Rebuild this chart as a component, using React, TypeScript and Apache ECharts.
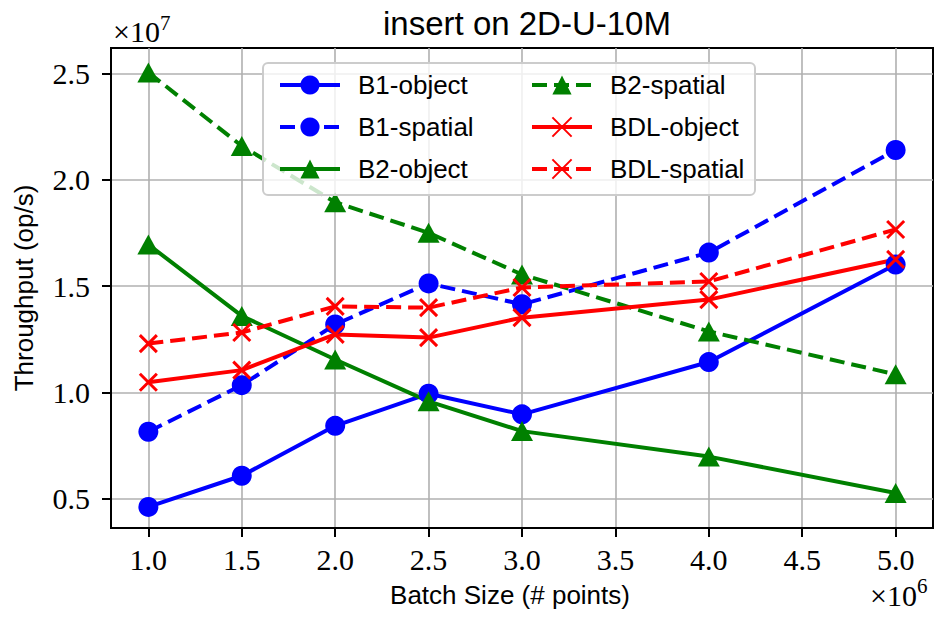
import React, { useEffect, useRef } from "react";
import * as echarts from "echarts";

// Batch size (×10^6 points)
const X_VALUES = [1.0, 1.5, 2.0, 2.5, 3.0, 4.0, 5.0];
// Throughput (×10^7 op/s)
const B1_OBJECT = [0.461, 0.608, 0.843, 0.994, 0.897, 1.143, 1.602];
const B1_SPATIAL = [0.815, 1.034, 1.32, 1.513, 1.415, 1.658, 2.141];
const B2_OBJECT = [1.696, 1.36, 1.155, 0.958, 0.818, 0.698, 0.527];
const B2_SPATIAL = [2.506, 2.16, 1.895, 1.751, 1.555, 1.287, 1.085];
const BDL_OBJECT = [1.048, 1.105, 1.273, 1.258, 1.352, 1.437, 1.626];
const BDL_SPATIAL = [1.23, 1.282, 1.405, 1.399, 1.494, 1.522, 1.767];

const X_TICKS = [1.0, 1.5, 2.0, 2.5, 3.0, 3.5, 4.0, 4.5, 5.0];
const Y_TICKS = [0.5, 1.0, 1.5, 2.0, 2.5];

const TITLE = "insert on 2D-U-10M";
const X_NAME = "Batch Size (# points)";
const Y_NAME = "Throughput (op/s)";

const SANS = "Liberation Sans";
const SERIF = "Liberation Serif";
const CROSS = "path://M0,0L10,10M10,0L0,10";

const pts = (ys: number[]) => X_VALUES.map((x, i) => [x, ys[i]]);

export default function App() {
  const ref = useRef<HTMLDivElement>(null);
  useEffect(() => {
    if (!ref.current) return;
    const chart = echarts.init(ref.current, undefined, { renderer: "svg" });
    const mk = (
      name: string,
      ys: number[],
      color: string,
      dashed: boolean,
      symbol: string
    ) => {
      const isCross = symbol === CROSS;
      return {
        name,
        type: "line",
        data: pts(ys),
        symbol,
        symbolSize: symbol === "triangle" ? [22, 20] : isCross ? 17 : 20,
        showSymbol: true,
        lineStyle: { color, width: 4, type: dashed ? [15, 7] : "solid" },
        itemStyle: {
          color,
          borderColor: color,
          borderWidth: isCross ? 3 : 0,
        },
        emphasis: { disabled: true },
        z: 3,
      };
    };
    const legendCommon = {
      orient: "vertical",
      top: 67,
      itemWidth: 60,
      itemHeight: 24,
      itemGap: 16,
      selectedMode: false,
      z: 60,
      lineStyle: { width: 4 },
      textStyle: { fontFamily: SANS, fontSize: 26, color: "#000", lineHeight: 24, padding: [0, 0, 0, 13] },
    };
    chart.setOption({
      animation: false,
      title: {
        text: TITLE,
        left: 522,
        top: 2,
        textAlign: "center",
        textStyle: { fontFamily: SANS, fontSize: 33, fontWeight: "normal", color: "#000" },
      },
      grid: {
        left: 111,
        right: 4,
        top: 48,
        bottom: 93,
        show: true,
        borderColor: "#000",
        borderWidth: 2,
        backgroundColor: "#fff",
        outerBoundsMode: "none",
      },
      xAxis: {
        type: "value",
        min: 0.8,
        max: 5.2,
        name: X_NAME,
        nameLocation: "middle",
        nameGap: 54,
        nameTextStyle: { fontFamily: SANS, fontSize: 26, color: "#000", padding: [0, 24, 0, 0] },
        axisLine: { show: true, lineStyle: { color: "#000", width: 2 } },
        axisTick: {
          show: true,
          customValues: X_TICKS,
          length: 9,
          lineStyle: { color: "#000", width: 2 },
        },
        axisLabel: {
          customValues: X_TICKS,
          margin: 16,
          formatter: (v: number) => v.toFixed(1),
          fontFamily: SERIF,
          fontSize: 30,
          color: "#000",
        },
        splitLine: { show: true, lineStyle: { color: "#b0b0b0", width: 1.6 } },
      },
      yAxis: {
        type: "value",
        min: 0.362,
        max: 2.621,
        name: Y_NAME,
        nameLocation: "middle",
        nameGap: 74,
        nameTextStyle: { fontFamily: SANS, fontSize: 26, color: "#000" },
        axisLine: { show: true, lineStyle: { color: "#000", width: 2 } },
        axisTick: {
          show: true,
          customValues: Y_TICKS,
          length: 9,
          lineStyle: { color: "#000", width: 2 },
        },
        axisLabel: {
          customValues: Y_TICKS,
          margin: 21,
          formatter: (v: number) => v.toFixed(1),
          fontFamily: SERIF,
          fontSize: 30,
          color: "#000",
        },
        splitLine: { show: true, lineStyle: { color: "#b0b0b0", width: 1.6 } },
      },
      legend: [
        { ...legendCommon, left: 273, data: ["B1-object", "B1-spatial", "B2-object"] },
        { ...legendCommon, left: 525, data: ["B2-spatial", "BDL-object", "BDL-spatial"] },
      ],
      graphic: [
        {
          type: "rect",
          z: 50,
          shape: { x: 263, y: 63, width: 492, height: 132, r: 5 },
          style: { fill: "rgba(255,255,255,0.8)", stroke: "#cccccc", lineWidth: 2 },
        },
        {
          type: "text",
          z: 50,
          x: 113,
          y: 31,
          style: { text: "×10", fontFamily: SERIF, fontSize: 30, fill: "#000", verticalAlign: "middle", align: "left" },
        },
        {
          type: "text",
          z: 50,
          x: 160,
          y: 23,
          style: { text: "7", fontFamily: SERIF, fontSize: 21, fill: "#000", verticalAlign: "middle", align: "left" },
        },
        {
          type: "text",
          z: 50,
          x: 870,
          y: 595,
          style: { text: "×10", fontFamily: SERIF, fontSize: 30, fill: "#000", verticalAlign: "middle", align: "left" },
        },
        {
          type: "text",
          z: 50,
          x: 917,
          y: 586,
          style: { text: "6", fontFamily: SERIF, fontSize: 21, fill: "#000", verticalAlign: "middle", align: "left" },
        },
      ],
      series: [
        mk("B1-object", B1_OBJECT, "#0000ff", false, "circle"),
        mk("B1-spatial", B1_SPATIAL, "#0000ff", true, "circle"),
        mk("B2-object", B2_OBJECT, "#008000", false, "triangle"),
        mk("B2-spatial", B2_SPATIAL, "#008000", true, "triangle"),
        mk("BDL-object", BDL_OBJECT, "#ff0000", false, CROSS),
        mk("BDL-spatial", BDL_SPATIAL, "#ff0000", true, CROSS),
      ],
    });
    return () => chart.dispose();
  }, []);
  return (
    <div
      ref={ref}
      style={{ position: "fixed", left: 0, top: 0, width: 937, height: 621, background: "#fff" }}
    />
  );
}
